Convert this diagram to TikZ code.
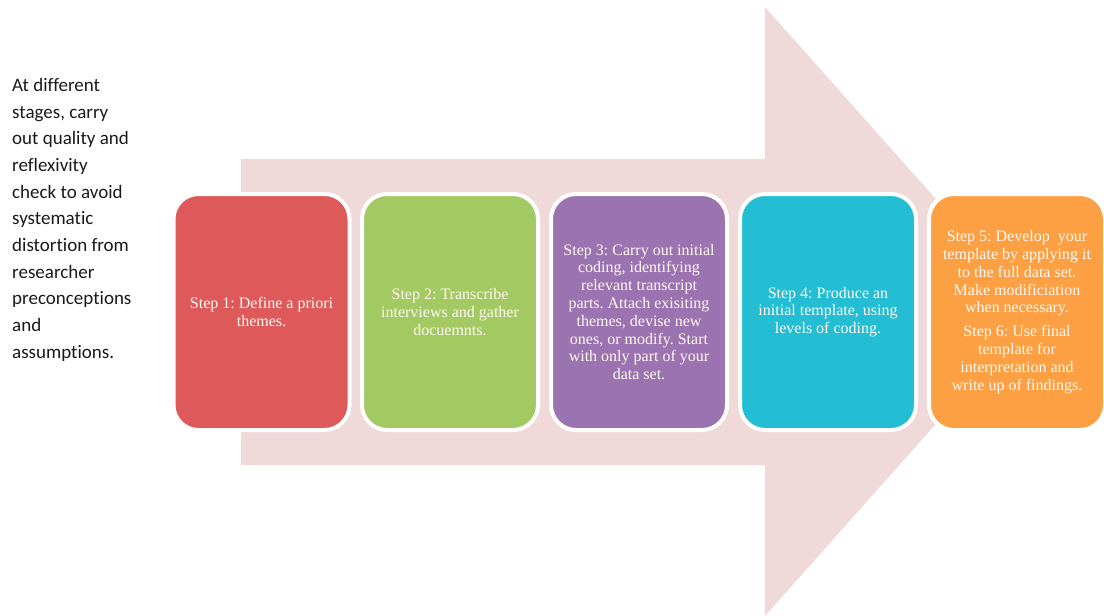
\documentclass[tikz,border=0pt]{standalone}
\usepackage{fontspec}
\setmainfont{Liberation Serif}
\newfontfamily\leftfont[Ligatures={NoCommon}]{Carlito}
\frenchspacing
\definecolor{arrowpink}{HTML}{EFD9D9}
\definecolor{cred}{HTML}{DE5959}
\definecolor{cgreen}{HTML}{A3C962}
\definecolor{cpurple}{HTML}{9B73B0}
\definecolor{ccyan}{HTML}{23BDD4}
\definecolor{corange}{HTML}{FDA043}
\definecolor{boxtext}{HTML}{FFF9F2}
\begin{document}
\begin{tikzpicture}[x=1pt,y=-1pt,
  stepbox/.style={rectangle, rounded corners=25pt, draw=white, line width=4pt,
    minimum width=176pt, minimum height=236pt, inner sep=2pt,
    text=boxtext, align=center, font=\fontsize{16}{17.8}\selectfont}]
\useasboundingbox (0,0) rectangle (1104,616);
% big arrow
\fill[arrowpink] (241,159) -- (765,159) -- (765,7) -- (1036,311.5) -- (765,616) -- (765,465) -- (241,465) -- cycle;
% left note
\node[anchor=north west, align=left, inner sep=0pt, text=black!90, font=\leftfont\fontsize{19}{26.7}\selectfont]
  (note) at (12,78) {At different\\stages, carry\\out quality and\\reflexivity\\check to avoid\\systematic\\distortion from\\researcher\\preconceptions\\and\\assumptions.};
% steps
\node[stepbox, fill=cred] (s1) at (261.5,312) {Step 1: Define a priori\\themes.};
\node[stepbox, fill=cgreen] (s2) at (450,312) {Step 2: Transcribe\\interviews and gather\\docuemnts.};
\node[stepbox, fill=cpurple] (s3) at (639,312) {Step 3: Carry out initial\\coding, identifying\\relevant transcript\\parts. Attach exisiting\\themes, devise new\\ones, or modify. Start\\with only part of your\\data set.};
\node[stepbox, fill=ccyan] (s4) at (828,312) {Step 4: Produce an\\initial template, using\\levels of coding.};
\node[stepbox, fill=corange] (s5) at (1017,312) {Step 5: Develop~ your\\template by applying it\\to the full data set.\\Make modificiation\\when necessary.\\[6pt]Step 6: Use final\\template for\\interpretation and\\write up of findings.};
\end{tikzpicture}
\end{document}
